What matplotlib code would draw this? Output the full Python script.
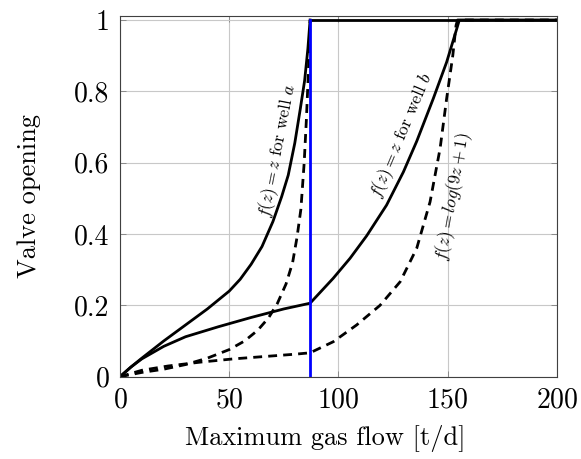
import numpy as np
import matplotlib.pyplot as plt

plt.rcParams['font.family'] = 'serif'
plt.rcParams['font.serif'] = ['cmr10']
plt.rcParams['mathtext.fontset'] = 'cm'
plt.rcParams['axes.formatter.use_mathtext'] = True

# well a: linear valve law (solid) and log law (dashed)
xa = [0, 5, 10, 20, 30, 40, 50, 55, 60, 65, 70, 74, 77, 80, 82.5, 84.5,
      86, 87]
ya_lin = [0, 0.027, 0.052, 0.1, 0.145, 0.19, 0.24, 0.273, 0.315, 0.365,
          0.435, 0.505, 0.565, 0.655, 0.75, 0.83, 0.92, 1.0]
xa_log = [0, 10, 20, 30, 40, 50, 57, 63, 68, 72, 76, 79, 81, 82.8, 84.3,
          85.3, 86.2, 87]
ya_log = [0, 0.012, 0.021, 0.034, 0.052, 0.076, 0.1, 0.13, 0.165, 0.205,
          0.26, 0.32, 0.39, 0.47, 0.6, 0.72, 0.85, 1.0]

# well b
xb = [0, 5, 10, 20, 30, 45, 60, 75, 87, 97.6, 105.3, 112.9, 122, 129.7,
      135.8, 143.4, 149.5, 154.1, 155.3, 200]
yb_lin = [0, 0.027, 0.05, 0.085, 0.112, 0.14, 0.166, 0.19, 0.206, 0.276,
          0.332, 0.395, 0.481, 0.574, 0.66, 0.78, 0.882, 0.975, 1.0, 1.0]
xb_log = [0, 10, 22, 37, 52, 67, 80, 87, 97.6, 108.3, 119, 128.2, 135.8,
          141.9, 146.5, 149.5, 152.3, 153.8, 154.5, 200]
yb_log = [0, 0.018, 0.03, 0.041, 0.05, 0.057, 0.063, 0.067, 0.098, 0.145,
          0.2, 0.266, 0.36, 0.49, 0.64, 0.78, 0.9, 0.985, 1.0, 1.0]

x_limit = 87   # gas flow limit of well a
x_top = [87, 200]
y_top = [1, 1]

fig = plt.figure(figsize=(5.81, 4.59), dpi=100)
ax = fig.add_axes([0.2065, 0.1793, 0.7522, 0.7857])

lw = 2.0
dash = (0, (3.2, 2.2))
ax.plot(xb_log, yb_log, color='black', lw=lw, linestyle=dash)
ax.plot(xa_log, ya_log, color='black', lw=lw, linestyle=dash)
ax.plot(xb, yb_lin, color='black', lw=lw)
ax.plot(xa, ya_lin, color='black', lw=lw)
ax.plot(x_top, y_top, color='black', lw=lw)
ax.plot([x_limit, x_limit], [0, 1], color='blue', lw=lw)

lab_fs = 12.5
ax.text(72.3, 0.633, r'$f(z) = z$ for well $a$', rotation=79,
        fontsize=lab_fs, ha='center', va='center', rotation_mode='anchor')
ax.text(129, 0.676, r'$f(z) = z$ for well $b$', rotation=67,
        fontsize=lab_fs, ha='center', va='center', rotation_mode='anchor')
ax.text(152.6, 0.504, r'$f(z) = log(9z+1)$', rotation=80,
        fontsize=lab_fs, ha='center', va='center', rotation_mode='anchor')

ax.set_xlim(0, 200)
ax.set_ylim(0, 1.011)
ax.set_xticks([0, 50, 100, 150, 200])
ax.set_yticks([0, 0.2, 0.4, 0.6, 0.8, 1.0])
ax.set_yticklabels(['0', '0.2', '0.4', '0.6', '0.8', '1'])
ax.grid(True, color='#c8c8c8', lw=0.8)
ax.set_axisbelow(True)
ax.tick_params(direction='in', top=True, right=True, labelsize=20,
               length=4, width=0.6, color='#808080', pad=7.5)
for s in ax.spines.values():
    s.set_linewidth(0.8)
    s.set_color('#404040')

ax.set_xlabel('Maximum gas flow [t/d]', fontsize=19)
ax.xaxis.set_label_coords(0.47, -0.135)
ax.set_ylabel('Valve opening', fontsize=19, labelpad=24)

fig.savefig('out.png', dpi=100)
